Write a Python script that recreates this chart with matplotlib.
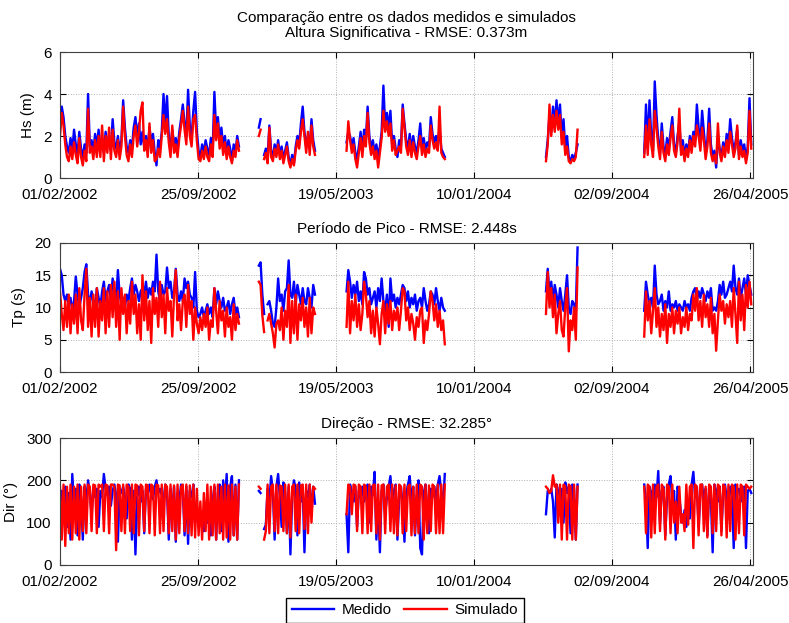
import pandas as pd
import matplotlib
matplotlib.use('Agg')
import matplotlib.pyplot as plt
import matplotlib.dates as mdates

plt.rcParams['font.family'] = ['Liberation Sans', 'DejaVu Sans']

# start of each measured block, values every 3 days
seg_start = ['2002-02-01', '2003-01-07', '2003-06-06', '2004-05-12', '2004-10-27']
nan = float('nan')

# significant height (m)
hs_med = [
    [2.4, 3.4, 2.9, 2.0, 1.5, 1.2, 1.9, 1.3, 2.3, 1.6, 1.1, 2.2, 1.4, 1.0, 1.6, 1.2, 4.0, 1.5, 1.8, 1.3,
     2.1, 1.5, 2.3, 1.4, 1.9, 1.2, 2.2, 1.6, 1.8, 1.3, 2.8, 1.7, 1.4, 2.0, 1.3, 1.8, 3.7, 2.4, 1.5, 1.2,
     1.8, 1.4, 2.4, 2.9, 1.9, 2.6, 1.6, 2.2, 1.5, 2.0, 1.3, 2.4, 1.7, 2.1, 1.2, 0.6, 1.8, 1.4, 2.2, 4.0,
     2.5, 3.9, 2.0, 1.4, 2.3, 1.6, 1.9, 1.3, 2.2, 2.8, 3.5, 2.6, 2.0, 4.2, 2.5, 1.9, 3.2, 4.1, 2.2, 1.3,
     1.0, 1.6, 1.2, 1.8, 1.4, 1.1, 1.9, 1.3, 4.1, 2.2, 2.9, 1.8, 2.4, 1.5, 2.0, 1.2, 1.8, 1.4, 0.8, 1.6,
     1.2, 2.0, 1.5],
    [2.4, 2.8, nan, 1.1, 1.4, 0.9, 2.5, 1.3, 1.0, 1.6, 1.2, 1.8, 1.1, 1.5, 0.9, 1.3, 1.7, 1.0, 0.6, 1.1,
     0.7, 1.5, 2.0, 1.6, 2.6, 3.4, 2.2, 1.5, 2.0, 1.4, 2.8, 1.8, 1.3],
    [1.7, 2.2, 2.0, 1.5, 1.9, 1.2, 0.9, 1.5, 2.2, 1.3, 2.3, 1.8, 3.4, 2.0, 1.4, 1.8, 1.2, 1.6, 1.0, 1.5,
     2.2, 4.4, 2.5, 3.1, 2.4, 3.2, 1.6, 2.0, 1.4, 1.0, 1.8, 1.5, 3.5, 2.6, 1.8, 1.4, 2.1, 1.3, 2.0, 1.5,
     1.2, 1.8, 2.6, 1.4, 1.9, 1.3, 1.7, 1.5, 2.9, 2.1, 1.7, 2.0, 1.6, 2.4, 1.4, 1.2, 1.0],
    [1.0, 1.8, 3.0, 2.2, 3.4, 2.5, 3.7, 2.6, 3.5, 1.9, 2.8, 1.4, 2.0, 1.0, 0.8, 1.1, 0.9, 1.2, 1.6],
    [1.2, 3.5, 1.4, 3.7, 2.0, 1.3, 4.6, 3.0, 1.8, 1.2, 2.6, 1.5, 1.1, 1.9, 1.4, 2.2, 2.9, 1.6, 1.2, 2.0,
     2.6, 1.3, 1.8, 1.0, 1.6, 1.2, 2.0, 1.5, 2.2, 1.8, 3.5, 2.4, 1.6, 3.2, 2.2, 1.2, 1.8, 3.3, 1.6, 1.0,
     1.3, 0.5, 1.9, 1.4, 1.0, 1.7, 1.2, 2.1, 1.5, 2.8, 1.9, 1.3, 1.7, 2.3, 1.1, 1.8, 1.3, 1.6, 0.9, 1.5,
     3.8, 1.6],
]
hs_sim = [
    [2.0, 3.1, 2.5, 1.6, 1.0, 0.8, 1.5, 0.9, 1.7, 1.1, 0.7, 1.9, 1.0, 0.6, 1.3, 0.8, 3.3, 1.2, 1.5, 0.9,
     1.8, 1.0, 2.0, 1.0, 2.5, 0.8, 2.0, 1.2, 2.4, 0.9, 2.3, 1.3, 1.0, 1.8, 0.9, 1.5, 3.4, 2.0, 1.1, 0.8,
     1.6, 1.0, 2.0, 2.5, 1.5, 2.2, 3.2, 3.6, 1.3, 1.8, 1.0, 2.6, 1.2, 1.8, 0.8, 0.9, 1.4, 1.0, 2.0, 3.0,
     2.1, 2.8, 1.7, 1.0, 2.5, 1.2, 1.6, 1.0, 1.9, 2.5, 3.2, 2.3, 1.6, 3.4, 2.0, 1.5, 2.8, 3.0, 1.8, 0.9,
     0.8, 1.3, 0.9, 1.5, 1.0, 0.8, 1.6, 1.0, 3.0, 1.8, 2.6, 1.4, 2.0, 1.1, 1.7, 0.9, 1.5, 1.0, 0.7, 1.3,
     1.0, 1.8, 1.3],
    [2.0, 2.3, nan, 0.9, 1.2, 0.7, 2.4, 1.0, 0.8, 1.4, 1.0, 1.6, 0.9, 1.3, 0.7, 1.1, 1.5, 0.8, 0.5, 0.9,
     0.6, 1.3, 1.8, 1.4, 2.2, 2.8, 2.0, 1.2, 2.2, 1.1, 2.5, 1.5, 1.1],
    [1.3, 2.7, 1.8, 1.2, 1.6, 0.9, 0.5, 1.2, 1.9, 1.0, 2.0, 1.5, 3.1, 1.7, 1.1, 1.5, 0.9, 1.3, 0.5, 1.2,
     1.9, 3.2, 2.2, 2.7, 2.0, 2.6, 1.3, 1.8, 1.1, 1.3, 1.5, 1.2, 3.3, 2.4, 1.5, 1.1, 1.8, 1.0, 1.7, 1.2,
     0.9, 1.5, 2.0, 1.1, 1.6, 1.0, 1.4, 1.2, 2.5, 1.8, 1.4, 1.7, 1.3, 3.4, 1.2, 1.0, 0.9],
    [0.8, 1.6, 3.5, 2.0, 3.0, 2.2, 3.2, 2.3, 3.0, 1.6, 2.2, 1.1, 1.5, 0.8, 0.7, 0.9, 0.8, 1.0, 2.3],
    [1.0, 2.5, 1.1, 2.8, 1.6, 1.0, 3.2, 2.4, 1.5, 0.9, 2.2, 1.2, 0.8, 1.6, 1.1, 1.9, 2.5, 1.3, 1.0, 1.7,
     3.3, 1.1, 1.5, 0.8, 1.4, 1.0, 1.8, 1.2, 2.0, 1.5, 2.5, 2.0, 1.3, 2.4, 1.8, 0.9, 1.5, 2.6, 1.2, 0.8,
     1.1, 0.7, 2.6, 1.2, 0.8, 1.5, 1.0, 1.8, 1.2, 2.2, 1.6, 1.0, 1.4, 2.5, 0.9, 1.5, 1.0, 1.3, 0.7, 1.2,
     3.2, 1.4],
]

# peak period (s)
tp_med = [
    [16.0, 15.0, 12.0, 11.0, 12.0, 10.5, 11.5, 9.5, 11.0, 14.8, 12.0, 10.0, 11.5, 13.0, 15.5, 16.7, 12.0, 10.5, 12.5, 11.0,
     10.0, 13.0, 11.5, 10.0, 12.5, 14.0, 11.0, 12.5, 13.5, 11.0, 14.5, 12.5, 11.0, 15.8, 12.0, 10.5, 11.5, 10.0, 12.0, 11.0,
     13.0, 14.5, 12.0, 13.5, 12.5, 11.0, 12.5, 13.0, 12.0, 14.0, 11.5, 13.0, 12.0, 14.0, 12.5, 18.2, 12.5, 11.0, 13.5, 12.0,
     12.5, 16.2, 13.0, 14.0, 11.5, 12.5, 16.0, 12.0, 11.0, 12.5, 11.0, 14.5, 13.0, 14.0, 12.0, 11.5, 10.0, 15.5, 9.5, 8.5,
     9.0, 10.0, 8.5, 9.5, 10.5, 9.0, 10.0, 8.5, 13.0, 10.5, 12.5, 11.0, 10.0, 11.5, 9.5, 10.0, 11.0, 9.0, 10.5, 11.5,
     9.0, 10.0, 8.5],
    [16.5, 17.0, 12.0, 9.0, nan, 10.5, 11.0, 9.5, 7.5, 7.0, 10.0, 14.5, 11.0, 12.0, 9.5, 12.5, 13.0, 17.3, 12.0, 11.5,
     14.0, 10.5, 13.5, 12.0, 10.5, 13.0, 11.0, 10.5, 13.0, 11.5, 10.0, 13.5, 12.0],
    [12.5, 15.8, 14.0, 11.5, 13.5, 12.0, 14.0, 11.0, 12.5, 10.5, 15.5, 14.5, 12.0, 13.0, 10.5, 11.5, 12.5, 10.0, 13.0, 11.0,
     14.5, 11.0, 9.5, 12.0, 7.0, 14.5, 11.0, 12.0, 10.0, 11.5, 10.5, 12.0, 13.5, 13.0, 11.0, 12.5, 10.0, 11.5, 10.5, 12.0,
     9.5, 11.0, 11.5, 10.0, 13.0, 11.0, 9.5, 10.5, 12.5, 12.0, 10.5, 13.0, 11.0, 9.5, 11.5, 10.0, 9.5],
    [12.5, 16.0, 12.0, 14.0, 11.0, 13.5, 12.0, 10.0, 13.0, 11.0, 9.5, 12.0, 15.0, 10.0, 9.0, 11.0, 10.5, 9.5, 19.3],
    [9.5, 14.0, 12.0, 10.5, 11.5, 10.0, 16.5, 12.0, 10.5, 11.0, 12.0, 9.5, 11.0, 10.0, 12.5, 9.5, 10.5, 10.0, 11.0, 9.5,
     10.5, 10.0, 9.5, 11.0, 10.0, 10.5, 9.5, 11.5, 12.5, 13.0, 11.0, 12.5, 11.5, 13.0, 12.0, 11.0, 12.5, 11.5, 13.0, 9.5,
     10.0, 9.5, 11.0, 13.5, 12.0, 14.0, 11.5, 12.0, 13.0, 14.0, 12.5, 16.5, 13.0, 12.0, 14.5, 11.5, 13.0, 14.5, 12.0, 15.0,
     13.5, 12.0],
]
tp_sim = [
    [12.5, 9.0, 6.5, 11.0, 7.0, 12.0, 6.0, 10.5, 7.5, 12.0, 6.0, 13.0, 8.0, 6.5, 12.0, 16.0, 7.0, 11.5, 5.5, 12.0,
     7.0, 13.0, 5.5, 11.0, 8.0, 13.0, 6.0, 12.5, 7.0, 13.5, 8.5, 14.0, 7.0, 12.5, 5.0, 13.0, 9.0, 12.0, 6.0, 11.0,
     7.5, 14.0, 9.0, 12.0, 6.0, 10.5, 5.0, 15.0, 8.0, 12.5, 6.5, 11.0, 4.5, 13.0, 9.0, 11.5, 7.0, 14.0, 8.5, 12.0,
     6.0, 13.0, 9.5, 11.0, 5.5, 12.0, 15.8, 8.0, 10.5, 6.5, 11.0, 12.0, 7.0, 13.5, 9.0, 11.0, 5.0, 10.0, 7.5, 6.0,
     8.5, 6.5, 9.0, 7.0, 10.0, 5.0, 8.0, 7.0, 13.0, 9.5, 6.0, 11.0, 8.0, 9.5, 5.5, 10.0, 7.0, 8.5, 5.0, 10.5,
     6.5, 9.0, 7.5],
    [14.0, 13.5, 8.8, 6.2, nan, 8.0, 9.0, 7.5, 6.0, 3.8, 7.5, 8.0, 6.5, 10.0, 5.0, 9.5, 7.0, 13.5, 4.5, 11.0,
     6.0, 12.0, 5.0, 10.5, 8.0, 11.5, 7.0, 10.0, 5.5, 11.5, 6.0, 10.0, 9.0],
    [7.0, 14.0, 6.0, 11.0, 8.0, 12.0, 7.0, 10.5, 6.5, 9.0, 14.0, 12.0, 8.5, 11.0, 6.0, 9.5, 5.5, 10.0, 7.5, 4.3,
     9.0, 11.0, 6.0, 10.5, 7.5, 11.0, 6.5, 9.5, 8.0, 10.0, 6.5, 9.5, 13.0, 12.5, 8.0, 10.0, 6.5, 9.0, 7.5, 5.0,
     8.5, 7.0, 9.5, 10.0, 4.5, 8.0, 6.5, 9.0, 12.5, 11.0, 8.0, 10.5, 7.0, 9.5, 6.5, 8.0, 4.3],
    [9.0, 15.5, 10.0, 13.0, 8.5, 12.0, 6.0, 9.0, 11.0, 6.5, 5.5, 10.0, 13.0, 3.2, 8.0, 6.5, 10.0, 5.0, 16.2],
    [5.5, 12.5, 8.0, 11.0, 6.0, 9.5, 13.0, 7.0, 10.0, 5.5, 9.0, 6.5, 10.5, 4.5, 9.0, 7.0, 10.0, 6.0, 9.5, 7.5,
     10.0, 6.0, 8.5, 7.0, 10.0, 6.5, 9.0, 8.0, 12.0, 9.5, 13.0, 8.0, 11.0, 7.0, 12.0, 8.5, 10.5, 7.0, 11.5, 6.0,
     9.0, 3.3, 8.0, 12.0, 9.5, 11.0, 7.5, 10.5, 8.5, 11.0, 7.0, 13.0, 9.0, 4.5, 14.0, 8.0, 12.0, 6.5, 13.5, 10.0,
     14.0, 10.5],
]

# direction (deg)
dir_med = [
    [150, 175, 120, 185, 90, 170, 60, 215, 140, 180, 70, 190, 160, 60, 185, 150, 200, 170, 120, 185,
     160, 180, 90, 175, 160, 215, 180, 165, 185, 140, 175, 190, 165, 55, 180, 170, 185, 160, 110, 190,
     180, 60, 175, 25, 160, 185, 150, 175, 75, 180, 165, 190, 170, 155, 185, 200, 170, 180, 165, 150,
     190, 175, 60, 180, 120, 185, 55, 170, 150, 190, 180, 70, 185, 50, 175, 160, 190, 100, 130, 90,
     120, 110, 80, 140, 100, 130, 70, 150, 185, 60, 170, 190, 80, 200, 150, 215, 55, 185, 210, 70,
     190, 60, 200],
    [175, 170, nan, 85, 95, 180, 150, 210, 175, 60, 185, 215, 160, 90, 195, 170, 75, 185, 25, 160,
     200, 180, 70, 195, 150, 185, 30, 175, 160, 190, 120, 185, 145],
    [120, 30, 190, 170, 150, 185, 90, 175, 160, 185, 150, 170, 190, 100, 185, 165, 220, 60, 150, 30,
     175, 190, 120, 160, 185, 210, 150, 175, 190, 60, 160, 185, 140, 55, 170, 190, 210, 150, 185, 70,
     160, 200, 40, 25, 170, 190, 130, 75, 180, 160, 185, 150, 190, 210, 170, 140, 215],
    [120, 175, 170, 180, 150, 65, 190, 175, 160, 180, 100, 195, 170, 185, 75, 190, 180, 60, 190],
    [190, 150, 40, 185, 170, 120, 190, 160, 222, 100, 175, 185, 70, 160, 190, 210, 150, 175, 60, 185,
     160, 120, 100, 130, 90, 140, 110, 190, 220, 160, 185, 90, 170, 190, 150, 180, 70, 185, 160, 30,
     190, 175, 150, 185, 80, 170, 190, 160, 140, 185, 175, 40, 190, 170, 180, 150, 175, 185, 40, 175,
     180, 170],
]
dir_sim = [
    [185, 60, 190, 45, 185, 75, 190, 60, 185, 75, 190, 60, 185, 80, 190, 75, 190, 185, 80, 190,
     188, 75, 190, 185, 190, 80, 190, 188, 75, 190, 190, 185, 35, 190, 188, 80, 190, 75, 190, 185,
     80, 190, 75, 190, 188, 70, 190, 185, 80, 190, 188, 75, 190, 185, 70, 190, 188, 75, 190, 80,
     190, 185, 75, 190, 80, 188, 60, 190, 75, 185, 190, 80, 190, 75, 188, 70, 190, 65, 180, 70,
     150, 60, 170, 80, 190, 60, 185, 70, 190, 60, 190, 75, 185, 60, 190, 65, 188, 60, 190, 70,
     185, 60, 190],
    [185, 180, nan, 60, 80, 190, 75, 185, 190, 80, 190, 75, 188, 185, 80, 190, 75, 190, 65, 185,
     190, 80, 190, 75, 188, 190, 85, 190, 75, 190, 100, 185, 180],
    [120, 190, 185, 120, 190, 188, 80, 190, 185, 75, 190, 185, 75, 190, 80, 188, 190, 75, 190, 60,
     188, 190, 75, 185, 190, 80, 190, 75, 188, 70, 190, 185, 75, 190, 80, 185, 190, 70, 185, 75,
     190, 75, 190, 185, 60, 190, 75, 188, 80, 190, 185, 75, 190, 75, 190, 75, 190],
    [185, 180, 170, 175, 212, 185, 190, 100, 190, 60, 190, 185, 60, 190, 185, 60, 190, 60, 185],
    [185, 75, 190, 185, 65, 190, 75, 185, 190, 80, 190, 180, 60, 190, 185, 75, 190, 100, 150, 75,
     185, 100, 120, 80, 190, 95, 185, 190, 40, 190, 185, 70, 190, 190, 80, 185, 65, 190, 185, 75,
     190, 80, 190, 185, 70, 190, 185, 65, 190, 80, 190, 185, 60, 190, 75, 190, 185, 70, 190, 185,
     180, 185],
]

titles = ['Comparação entre os dados medidos e simulados\nAltura Significativa - RMSE: 0.373m',
          'Período de Pico - RMSE: 2.448s',
          'Direção - RMSE: 32.285°']
title_pads = [11, 7.5, 7.5]
ylabels = ['Hs (m)', 'Tp (s)', 'Dir (°)']
ylims = [(0, 6), (0, 20), (0, 300)]
yticks = [[0, 2, 4, 6], [0, 5, 10, 15, 20], [0, 100, 200, 300]]
xticks = pd.date_range('2002-02-01', periods=6, freq='236D')

W, H = 789, 623
# axes boxes in pixels: left, top, right, bottom
boxes = [(60, 52, 753, 178), (60, 243, 753, 372), (60, 438, 753, 565)]

fig = plt.figure(figsize=(W / 100, H / 100), dpi=100)

data = [(hs_med, hs_sim), (tp_med, tp_sim), (dir_med, dir_sim)]
for k, (med, sim) in enumerate(data):
    l, t, r, b = boxes[k]
    ax = fig.add_axes([l / W, 1 - b / H, (r - l) / W, (b - t) / H])
    for start, vals in zip(seg_start, med):
        x = pd.date_range(start, periods=len(vals), freq='3D')
        line_m, = ax.plot(x, vals, color='#0000ff', lw=1.7)
    for start, vals in zip(seg_start, sim):
        x = pd.date_range(start, periods=len(vals), freq='3D')
        line_s, = ax.plot(x, vals, color='#ff0000', lw=1.7)
    ax.set_xlim(pd.Timestamp('2002-02-01'), pd.Timestamp('2005-05-01'))
    ax.set_ylim(ylims[k])
    ax.set_yticks(yticks[k])
    ax.set_xticks(xticks)
    ax.xaxis.set_major_formatter(mdates.DateFormatter('%d/%m/%Y'))
    ax.tick_params(direction='in', top=True, right=True, labelsize=11, length=4, width=0.8)
    ax.tick_params(axis='x', pad=7)
    ax.tick_params(axis='y', pad=6)
    ax.grid(True, linestyle=':', color='#b0b0b0', lw=0.7)
    for sp in ax.spines.values():
        sp.set_color('#404040')
        sp.set_linewidth(0.8)
    ax.set_ylabel(ylabels[k], fontsize=11, labelpad=6)
    ax.set_title(titles[k], fontsize=11, pad=title_pads[k], linespacing=1.05)

fig.legend([line_m, line_s], ['Medido', 'Simulado'], loc='upper center',
           bbox_to_anchor=(405 / W, 1 - 598 / H), ncol=2, fontsize=11,
           frameon=True, fancybox=False, edgecolor='black', framealpha=1,
           handlelength=2.8, handletextpad=0.5, columnspacing=0.8,
           borderpad=0.35, borderaxespad=0)

fig.savefig('out.png', dpi=100)
